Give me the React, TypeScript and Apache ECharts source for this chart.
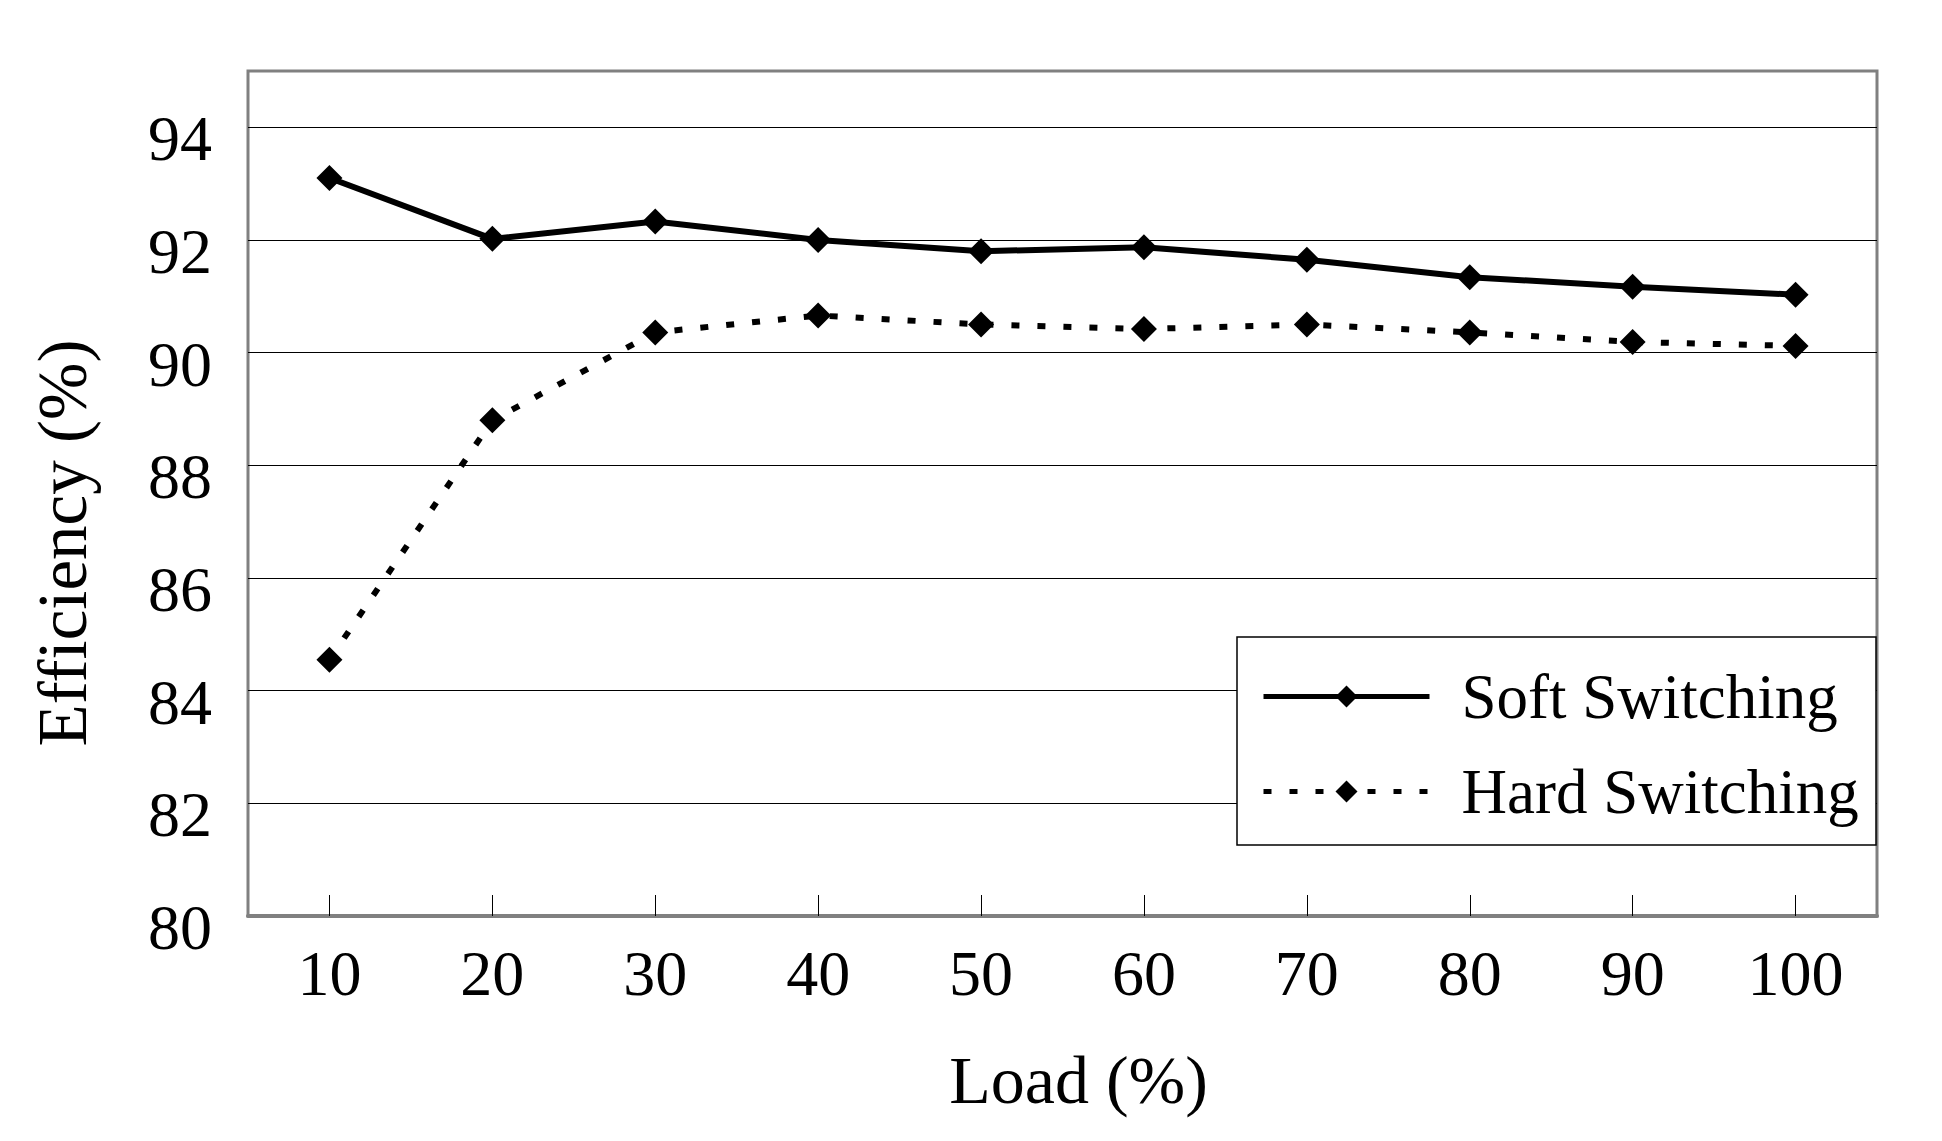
import React, { useEffect, useRef } from "react";
import * as echarts from "echarts";

const categories = ["10", "20", "30", "40", "50", "60", "70", "80", "90", "100"];
const softSwitching = [93.1, 92.02, 92.33, 92.0, 91.8, 91.87, 91.65, 91.34, 91.17, 91.03];
const hardSwitching = [84.55, 88.8, 90.36, 90.66, 90.5, 90.42, 90.5, 90.36, 90.19, 90.12];
const seriesNames = ["Soft Switching", "Hard Switching"];
const xTitle = "Load (%)";
const yTitle = "Efficiency (%)";

const FONT = '"Liberation Serif", "Times New Roman", serif';
const SOFT_LINE = { color: "#000", width: 6, type: "solid" as const };
const HARD_LINE = { color: "#000", width: 6, type: [8, 18] };

export default function App() {
  const ref = useRef<HTMLDivElement>(null);
  useEffect(() => {
    document.body.style.margin = "0";
    const chart = echarts.init(ref.current!, null, { renderer: "svg" });
    chart.setOption({
      animation: false,
      backgroundColor: "#ffffff",
      textStyle: { fontFamily: FONT, color: "#000" },
      grid: {
        left: 248,
        top: 71,
        right: 65,
        bottom: 225,
        show: true,
        borderColor: "#808080",
        borderWidth: 3,
        backgroundColor: "#ffffff",
      },
      xAxis: {
        type: "category",
        data: categories,
        boundaryGap: true,
        name: xTitle,
        nameLocation: "middle",
        nameGap: 130,
        nameTextStyle: { fontFamily: FONT, fontSize: 68, color: "#000", padding: [0, 0, 0, 32] },
        axisLine: { show: true, lineStyle: { color: "#808080", width: 4 } },
        axisTick: { show: true, inside: true, alignWithLabel: true, length: 21, lineStyle: { color: "#000", width: 1 } },
        axisLabel: { fontFamily: FONT, fontSize: 64, color: "#000", margin: 25 },
        splitLine: { show: false },
      },
      yAxis: {
        type: "value",
        min: 80,
        max: 95,
        interval: 2,
        axisLine: { show: false },
        axisTick: { show: false },
        axisLabel: {
          color: "#000",
          margin: 36,
          showMaxLabel: false,
          formatter: (v: number) => `{a|${v}}`,
          rich: {
            a: { fontFamily: FONT, fontSize: 64, color: "#000", padding: [23, 0, 0, 0] },
          },
        },
        splitLine: { show: true, showMinLine: false, showMaxLine: false, lineStyle: { color: "#000", width: 1 } },
      },
      legend: {
        orient: "vertical",
        left: 1261,
        top: 665,
        padding: 0,
        itemWidth: 166,
        itemHeight: 27.5,
        itemGap: 32,
        data: [
          { name: seriesNames[0], lineStyle: { width: 5, type: "solid" } },
          { name: seriesNames[1], lineStyle: { width: 5, type: [8, 18] } },
        ],
        textStyle: { fontFamily: FONT, fontSize: 63, color: "#000", padding: [0, 0, 0, 27] },
        z: 6,
      },
      graphic: [
        {
          type: "rect",
          z: 5,
          shape: { x: 1237, y: 637, width: 639, height: 208 },
          style: { fill: "#ffffff", stroke: "#000000", lineWidth: 1.5 },
        },
        {
          type: "text",
          x: 63,
          y: 543,
          rotation: Math.PI / 2,
          style: {
            text: yTitle,
            font: `69px ${FONT}`,
            fill: "#000",
            textAlign: "center",
            textVerticalAlign: "middle",
          },
        },
      ],
      series: [
        {
          name: seriesNames[0],
          type: "line",
          data: softSwitching,
          symbol: "diamond",
          symbolSize: 26,
          itemStyle: { color: "#000" },
          lineStyle: SOFT_LINE,
        },
        {
          name: seriesNames[1],
          type: "line",
          data: hardSwitching,
          symbol: "diamond",
          symbolSize: 26,
          itemStyle: { color: "#000" },
          lineStyle: HARD_LINE,
        },
      ],
    });
    return () => chart.dispose();
  }, []);
  return <div ref={ref} style={{ width: 1942, height: 1141 }} />;
}
